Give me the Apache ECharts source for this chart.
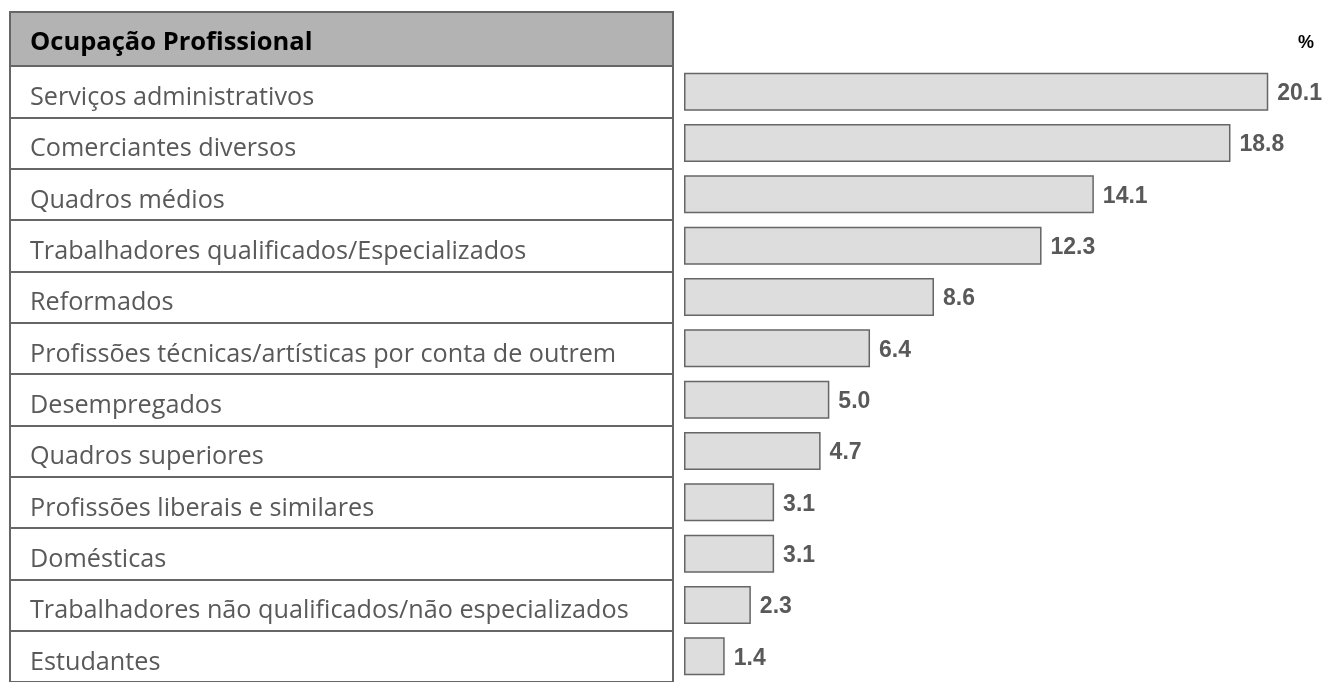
<!DOCTYPE html>
<html>
<head>
<meta charset="utf-8">
<script src="https://cdn.jsdelivr.net/npm/echarts@6/dist/echarts.min.js"></script>
<style>
  html, body { margin: 0; padding: 0; background: #fff; }
  #chart { width: 1329px; height: 682px; }
</style>
</head>
<body>
<div id="chart"></div>
<script>
const categories = [
    'Serviços administrativos',
    'Comerciantes diversos',
    'Quadros médios',
    'Trabalhadores qualificados/Especializados',
    'Reformados',
    'Profissões técnicas/artísticas por conta de outrem',
    'Desempregados',
    'Quadros superiores',
    'Profissões liberais e similares',
    'Domésticas',
    'Trabalhadores não qualificados/não especializados',
    'Estudantes'
];
const values = [20.1, 18.8, 14.1, 12.3, 8.6, 6.4, 5.0, 4.7, 3.1, 3.1, 2.3, 1.4];
const headerTitle = 'Ocupação Profissional';
const unitLabel = '%';

const chart = echarts.init(document.getElementById('chart'));
chart.setOption({
    animation: false,
    grid: [
        {
            left: 10, top: 66, width: 663, height: 621.6,
            show: true, borderColor: '#666', borderWidth: 2, backgroundColor: '#fff'
        },
        {
            left: 684, top: 66, width: 639.5, height: 621.6
        }
    ],
    graphic: [
        {
            type: 'rect',
            shape: { x: 10, y: 12, width: 663, height: 54 },
            style: { fill: '#b3b3b3', stroke: '#666', lineWidth: 2 }
        },
        {
            type: 'text',
            x: 30, y: 43,
            style: {
                text: headerTitle, fill: '#000', font: 'bold 25.5px "Open Sans"',
                verticalAlign: 'middle', align: 'left'
            }
        },
        {
            type: 'text',
            x: 1306, y: 43,
            style: {
                text: unitLabel, fill: '#000', font: 'bold 18px "Liberation Sans"',
                verticalAlign: 'middle', align: 'center'
            }
        }
    ],
    xAxis: [
        { gridIndex: 0, type: 'value', show: false },
        { gridIndex: 1, type: 'value', min: 0, max: 22, show: false }
    ],
    yAxis: [
        {
            gridIndex: 0,
            type: 'category',
            inverse: true,
            data: categories,
            axisLine: { show: false },
            axisTick: { show: false },
            splitLine: { show: true, lineStyle: { color: '#666', width: 2 } },
            axisLabel: {
                inside: true,
                margin: 20,
                align: 'left',
                formatter: v => '{t|' + v + '}',
                rich: {
                    t: {
                        color: '#595959',
                        fontSize: 25.2,
                        fontFamily: 'Open Sans',
                        padding: [12, 0, 0, 0]
                    }
                }
            }
        },
        {
            gridIndex: 1,
            type: 'category',
            inverse: true,
            data: categories,
            show: false
        }
    ],
    series: [
        {
            type: 'bar',
            xAxisIndex: 1,
            yAxisIndex: 1,
            data: values,
            barWidth: 38,
            itemStyle: { color: '#dddddd', borderColor: '#666', borderWidth: 1.5 },
            label: {
                show: true,
                position: 'right',
                distance: 9,
                offset: [0, 2],
                formatter: p => p.value.toFixed(1),
                color: '#595959',
                fontSize: 23,
                fontWeight: 'bold',
                fontFamily: 'Liberation Sans'
            }
        }
    ]
});
</script>
</body>
</html>
